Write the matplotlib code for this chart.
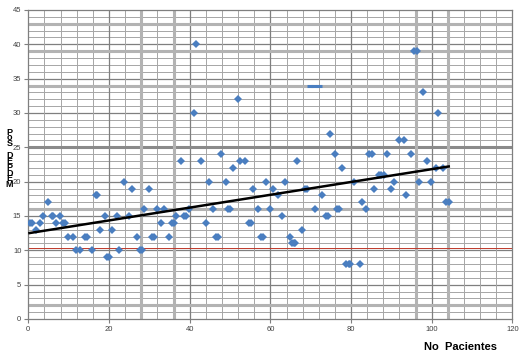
#!/usr/bin/env python3
"""
Scatter of DEM days per patient with linear trendline (Excel-style grid)
"""

import numpy as np
import matplotlib
matplotlib.use("Agg")
import matplotlib.pyplot as plt

plt.rcParams['font.family'] = ['Liberation Sans', 'DejaVu Sans']

# patient number vs days
pacientes = [0.3, 1, 1.8, 3, 3.7, 4.8, 5.8, 6.2, 6.8, 7.9, 8.5, 9, 9.8, 11, 11.7, 12.8,
             14, 14.6, 15.9, 16.7, 17.1, 17.7, 19, 19.6, 20.1, 20.8, 21.9, 22.6, 23.8,
             25, 25.6, 26.9, 27.6, 28.1, 28.7, 29.9, 30.6, 31.2, 31.9, 33, 33.7, 34.8,
             35.7, 36.2, 36.7, 37.9, 38.6, 39.1, 39.8, 41, 41.6, 42.9, 44, 44.7, 45.9,
             46.6, 47.1, 47.7, 49, 49.4, 49.9, 50.7, 52, 52.5, 53.8, 54.8, 55.2, 55.7,
             56.9, 57.7, 58.2, 58.8, 60, 60.6, 61.8, 63, 63.6, 64.9, 65.4, 65.8, 66.2,
             66.7, 67.9, 68.5, 69.1, 71, 72.8, 73.9, 74.2, 74.7, 75.9, 76.5, 77.1, 77.8,
             78.8, 79.4, 79.8, 80.7, 82.1, 82.7, 83.8, 84.5, 85.1, 85.8, 87, 87.4, 88.1,
             88.8, 90, 90.6, 92, 93.1, 93.6, 94.9, 95.6, 96.3, 96.8, 97.9, 98.7, 99.8,
             101.1, 101.6, 102.9, 103.6, 104.2]
dias = [14, 14, 13, 14, 15, 17, 15, 15, 14, 15, 14, 14, 12, 12, 10, 10,
        12, 12, 10, 18, 18, 13, 15, 9, 9, 13, 15, 10, 20,
        15, 19, 12, 10, 10, 16, 19, 12, 12, 16, 14, 16, 12,
        14, 14, 15, 23, 15, 15, 16, 30, 40, 23, 14, 20, 16,
        12, 12, 24, 20, 16, 16, 22, 32, 23, 23, 14, 14, 19,
        16, 12, 12, 20, 16, 19, 18, 15, 20, 12, 11, 11, 11,
        23, 13, 19, 19, 16, 18, 15, 15, 27, 24, 16, 16, 22,
        8, 8, 8, 20, 8, 17, 16, 24, 24, 19, 21, 21, 21,
        24, 19, 20, 26, 26, 18, 24, 39, 39, 20, 33, 23, 20,
        22, 30, 22, 17, 17]

# second small series drawn as dashes
dash_x = [69.7, 70.9, 72.0]
dash_y = [34, 34, 34]

# reference lines
gray_hlines = [43, 39, 34, 16, 2]
dark_hlines = [25]
gray_vlines = [28, 36, 96, 104]
red_hline = 10.4

fig = plt.figure(figsize=(5.24, 3.56), dpi=100)
ax = fig.add_axes([0.054, 0.104, 0.924, 0.868])

# grid
for yv in np.arange(1, 45, 1):
    major = yv % 5 == 0
    ax.axhline(yv, color='#7f7f7f' if major else '#a6a6a6', lw=0.9 if major else 0.7, zorder=0)
for xv in np.arange(4, 120, 4):
    major = xv % 20 == 0
    ax.axvline(xv, color='#7f7f7f' if major else '#a6a6a6', lw=0.9 if major else 0.7, zorder=0)

for yv in gray_hlines:
    ax.axhline(yv, color='#b3b3b3', lw=2.2, zorder=1)
for yv in dark_hlines:
    ax.axhline(yv, color='#8a8a8a', lw=2.2, zorder=1)
for xv in gray_vlines:
    ax.axvline(xv, color='#b3b3b3', lw=2.2, zorder=1)
ax.axhline(red_hline, color='#c0392b', lw=0.7, zorder=1)

# points
ax.plot(pacientes, dias, linestyle='none', marker='D', markersize=4.2,
        color='#4a7ec0', markeredgewidth=0, zorder=3)
ax.plot(dash_x, dash_y, linestyle='none', marker='_', markersize=4.5,
        markeredgewidth=2.2, color='#4a7ec0', zorder=3)

# linear trendline
coef = np.polyfit(pacientes, dias, 1)
xt = np.array([min(pacientes), max(pacientes)])
ax.plot(xt, np.polyval(coef, xt), color='black', lw=1.8, zorder=4)

ax.set_xlim(0, 120)
ax.set_ylim(0, 45)
ax.set_xticks(np.arange(0, 121, 20))
ax.set_yticks(np.arange(0, 46, 5))
ax.tick_params(axis='both', labelsize=5.5, labelcolor='#404040', color='#7f7f7f',
               length=3, width=0.8, pad=2)
for s in ax.spines.values():
    s.set_color('#7f7f7f')
    s.set_linewidth(0.9)

fig.text(0.878, 0.026, 'No  Pacientes', fontsize=8, fontweight='bold',
         ha='center', va='center')
fig.text(0.018, 0.555, 'P\no\nS\n\nD\nE\nP\nD\nE\nM', fontsize=6.5, fontweight='bold',
         ha='center', va='center', linespacing=0.55)

plt.savefig('out.png', dpi=100)
plt.close()
